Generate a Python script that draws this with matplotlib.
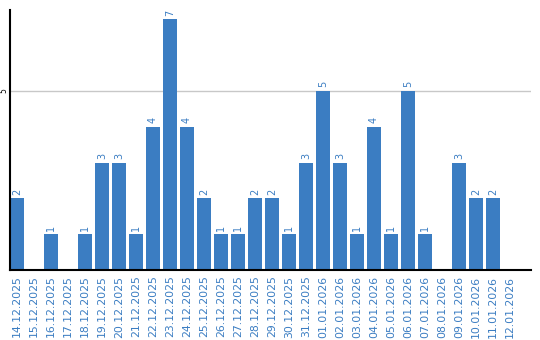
import numpy as np
import matplotlib.pyplot as plt

dates = ['14.12.2025', '15.12.2025', '16.12.2025', '17.12.2025', '18.12.2025',
         '19.12.2025', '20.12.2025', '21.12.2025', '22.12.2025', '23.12.2025',
         '24.12.2025', '25.12.2025', '26.12.2025', '27.12.2025', '28.12.2025',
         '29.12.2025', '30.12.2025', '31.12.2025', '01.01.2026', '02.01.2026',
         '03.01.2026', '04.01.2026', '05.01.2026', '06.01.2026', '07.01.2026',
         '08.01.2026', '09.01.2026', '10.01.2026', '11.01.2026', '12.01.2026']
counts = [2, 0, 1, 0, 1, 3, 3, 1, 4, 7, 4, 2, 1, 1, 2, 2, 1, 3, 5, 3,
          1, 4, 1, 5, 1, 0, 3, 2, 2, 0]

blue = '#3b7dc2'

fig = plt.figure(figsize=(5.4, 3.4), dpi=100)
ax = fig.add_axes([10 / 540, 70 / 340, 521 / 540, 260 / 340])

x = np.arange(len(dates))
ax.bar(x, counts, width=0.82, color=blue, zorder=2)
for xi, v in zip(x, counts):
    if v > 0:
        ax.text(xi, v + 0.1, str(v), rotation=90, ha='center', va='bottom',
                fontsize=7, color=blue)

ax.set_xlim(-0.41, 30.24)
ax.set_ylim(0, 7.26)
ax.set_xticks(x)
ax.set_xticklabels(dates, rotation=90, fontsize=7.8, color=blue)
ax.set_yticks([5])
ax.set_yticklabels(['5'], rotation=90, fontsize=5.5, va='center')
ax.tick_params(axis='x', length=0, pad=4)
ax.tick_params(axis='y', length=0, pad=1)
ax.yaxis.grid(True, color='#c8c8c8', linewidth=1, zorder=0)
ax.spines['top'].set_visible(False)
ax.spines['right'].set_visible(False)
ax.spines['left'].set_linewidth(1.5)
ax.spines['bottom'].set_linewidth(1.5)

fig.savefig('out.png', dpi=100)
